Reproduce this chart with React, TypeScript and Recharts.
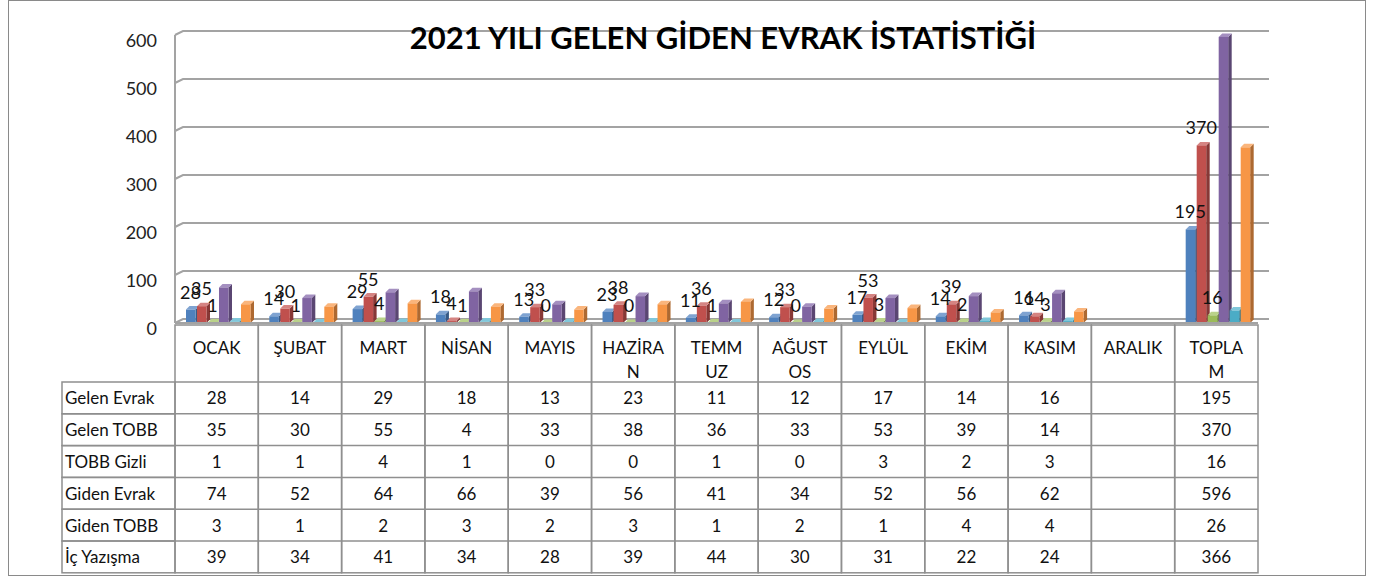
import { Bar, BarChart, CartesianGrid, LabelList, XAxis, YAxis } from 'recharts';

const months = ['OCAK', 'ŞUBAT', 'MART', 'NİSAN', 'MAYIS', 'HAZİRAN', 'TEMMUZ', 'AĞUSTOS', 'EYLÜL', 'EKİM', 'KASIM', 'ARALIK', 'TOPLAM'];
// başlık hücrelerinde Excel'in kırdığı şekliyle
const monthLabels = ['OCAK', 'ŞUBAT', 'MART', 'NİSAN', 'MAYIS', 'HAZİRA\nN', 'TEMM\nUZ', 'AĞUST\nOS', 'EYLÜL', 'EKİM', 'KASIM', 'ARALIK', 'TOPLA\nM'];

const gelenEvrak = [28, 14, 29, 18, 13, 23, 11, 12, 17, 14, 16, null, 195];
const gelenTobb = [35, 30, 55, 4, 33, 38, 36, 33, 53, 39, 14, null, 370];
const tobbGizli = [1, 1, 4, 1, 0, 0, 1, 0, 3, 2, 3, null, 16];
const gidenEvrak = [74, 52, 64, 66, 39, 56, 41, 34, 52, 56, 62, null, 596];
const gidenTobb = [3, 1, 2, 3, 2, 3, 1, 2, 1, 4, 4, null, 26];
const icYazisma = [39, 34, 41, 34, 28, 39, 44, 30, 31, 22, 24, null, 366];

const seriesNames = ['Gelen Evrak', 'Gelen TOBB', 'TOBB Gizli', 'Giden Evrak', 'Giden TOBB', 'İç Yazışma'];
const seriesValues = [gelenEvrak, gelenTobb, tobbGizli, gidenEvrak, gidenTobb, icYazisma];
const yTicks = [0, 100, 200, 300, 400, 500, 600];

const COLORS = [
  { front: '#4F81BD', side: '#375a86', top: '#7fa3d1' },
  { front: '#C0504D', side: '#873836', top: '#d58482' },
  { front: '#9BBB59', side: '#6d843e', top: '#bad28a' },
  { front: '#8064A2', side: '#5a4672', top: '#a48fc0' },
  { front: '#4BACC6', side: '#35798b', top: '#80c7da' },
  { front: '#F79646', side: '#ad6931', top: '#fab57c' },
];

const FONT = 'Lato, "Open Sans", sans-serif';
const W = 1384;
const H = 578;
const PLOT_LEFT = 175;
const PLOT_RIGHT = 1258;
const COL_W = (PLOT_RIGHT - PLOT_LEFT) / months.length;
const HEADER_H = 57;
const ROW_H = 31.8;
const NAME_W = 113;
const GRID = '#a3a3a3';
const TABLE_LINE = '#8f8f8f';

const data = months.map((m, i) => {
  const row: Record<string, string | number | null> = { month: m };
  seriesNames.forEach((s, k) => {
    row[s] = seriesValues[k][i];
  });
  return row;
});

const Bar3D = (props: any) => {
  const { x, y, width, height, colors } = props;
  if (x == null || y == null || !(width > 0)) return null;
  const d = 3.5;
  const fx = x + 3;
  const fw = width - 1.5;
  const h = Math.max(height || 0, 0);
  return (
    <g>
      <path d={`M${fx + fw} ${y} l${d} ${-d} v${h} l${-d} ${d} Z`} fill={colors.side} />
      <path d={`M${fx} ${y} l${d} ${-d} h${fw} l${-d} ${d} Z`} fill={colors.top} />
      <rect x={fx} y={y} width={fw} height={h} fill={colors.front} />
    </g>
  );
};

const ValueLabel = (props: any) => {
  const { x, y, width, value } = props;
  if (value == null) return null;
  return (
    <text
      x={x + width / 2 + 2}
      y={y - 18}
      textAnchor="middle"
      dominantBaseline="central"
      fontSize={18}
      fontFamily={FONT}
      fill="#111"
    >
      {value}
    </text>
  );
};

const GridLine3D = (props: any) => {
  const { x1, y1, x2, key } = props;
  return (
    <path
      key={key}
      d={`M${x1} ${y1} L${x1 + 8} ${y1 - 4} L${x2 + 11} ${y1 - 4}`}
      stroke={GRID}
      strokeWidth={2}
      fill="none"
    />
  );
};

const YTick = (props: any) => {
  const { x, y, payload } = props;
  return (
    <text x={x} y={y + 5} textAnchor="end" dominantBaseline="central" fontSize={18} fontFamily={FONT} fill="#222">
      {payload.value}
    </text>
  );
};

const TableTick = (props: any) => {
  const { x, y, index } = props;
  const left = x - COL_W / 2;
  const top = y + 2;
  const bottom = top + HEADER_H + ROW_H * seriesNames.length;
  const lines = monthLabels[index].split('\n');
  return (
    <g fontFamily={FONT} fontSize={17} fill="#111">
      <rect x={left} y={top} width={COL_W} height={bottom - top} fill="none" stroke={TABLE_LINE} strokeWidth={1.5} />
      {lines.map((t, li) => (
        <text key={t} x={x} y={top + 22 + li * 24} textAnchor="middle" dominantBaseline="central">
          {t}
        </text>
      ))}
      {seriesValues.map((vals, r) => {
        const ry = top + HEADER_H + r * ROW_H;
        return (
          <g key={r}>
            <line x1={left} x2={left + COL_W} y1={ry} y2={ry} stroke={TABLE_LINE} strokeWidth={1.5} />
            {vals[index] != null && (
              <text x={x} y={ry + ROW_H / 2} textAnchor="middle" dominantBaseline="central">
                {vals[index]}
              </text>
            )}
          </g>
        );
      })}
      {index === 0 &&
        seriesNames.map((name, r) => {
          const ry = top + HEADER_H + r * ROW_H;
          return (
            <g key={name}>
              <rect x={left - NAME_W} y={ry} width={NAME_W} height={ROW_H} fill="none" stroke={TABLE_LINE} strokeWidth={1.5} />
              <text x={left - NAME_W + 3} y={ry + ROW_H / 2} dominantBaseline="central">
                {name}
              </text>
            </g>
          );
        })}
    </g>
  );
};

export default function App() {
  return (
    <div style={{ position: 'absolute', left: 0, top: 0, width: W, height: H, background: '#fff' }}>
      <div
        style={{
          position: 'absolute',
          left: 8,
          top: 0,
          width: 1358,
          height: 576,
          boxSizing: 'border-box',
          border: '1.5px solid #8a8a8a',
        }}
      />
      <BarChart
        width={W}
        height={H}
        data={data}
        margin={{ top: 35, right: W - PLOT_RIGHT, bottom: 5, left: PLOT_LEFT - 60 }}
        barCategoryGap={8}
        barGap={0}
        style={{ position: 'absolute', left: 0, top: 0 }}
      >
        <CartesianGrid vertical={false} horizontal={GridLine3D} />
        <YAxis
          width={60}
          domain={[0, 600]}
          ticks={yTicks}
          tickLine={false}
          tickSize={0}
          tickMargin={18}
          axisLine={{ stroke: GRID, strokeWidth: 2 }}
          tick={YTick}
        />
        <XAxis
          dataKey="month"
          height={250}
          tickLine={false}
          tickSize={0}
          tickMargin={0}
          interval={0}
          axisLine={{ stroke: GRID, strokeWidth: 2 }}
          tick={TableTick}
        />
        {seriesNames.map((s, k) => (
          <Bar
            key={s}
            dataKey={s}
            isAnimationActive={false}
            shape={(p: any) => <Bar3D {...p} colors={COLORS[k]} />}
          >
            {k < 3 && <LabelList dataKey={s} content={ValueLabel} />}
          </Bar>
        ))}
      </BarChart>
      <div
        style={{
          position: 'absolute',
          left: 0,
          width: 1446,
          top: 17,
          textAlign: 'center',
          fontFamily: FONT,
          fontWeight: 700,
          fontSize: 31,
          lineHeight: '40px',
          color: '#000',
          pointerEvents: 'none',
        }}
      >
        2021 YILI GELEN GİDEN EVRAK İSTATİSTİĞİ
      </div>
    </div>
  );
}
